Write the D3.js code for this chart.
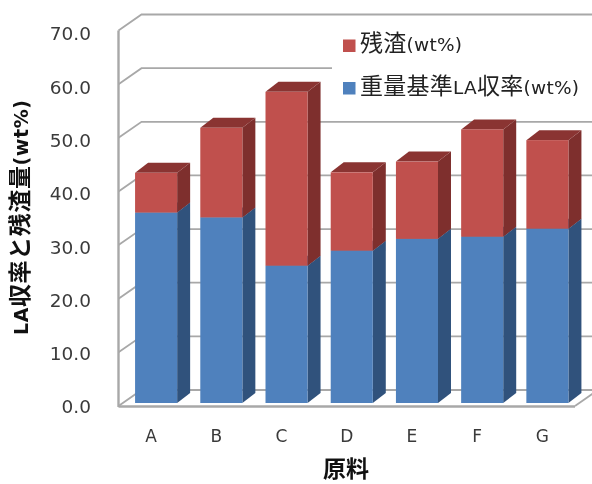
<!DOCTYPE html>
<html><head><meta charset="utf-8">
<script src="https://cdn.jsdelivr.net/npm/d3@7"></script>
<style>html,body{margin:0;padding:0;background:#fff}svg{display:block;filter:blur(0.5px)}</style></head><body>
<div id="c"></div>
<script>
const categories=["A","B","C","D","E","F","G"];
const yieldValues=[35.5,34.6,25.6,28.4,30.6,31.0,32.5];
const residueValues=[7.4,16.7,32.4,14.6,14.4,20.0,16.5];
const yTicks=[0,10,20,30,40,50,60,70];
const seriesNames=["残渣(wt%)","重量基準LA収率(wt%)"];
const yTitle="LA収率と残渣量(wt%)";
const xTitle="原料";
const W=592,H=484,cjk='"Noto Sans CJK JP","Liberation Sans",sans-serif',latin='"DejaVu Sans",sans-serif';
const svg=d3.select("#c").append("svg").attr("width",W).attr("height",H);
const x=d3.scaleBand().domain(categories).range([118.5,575]).paddingInner(0.355).paddingOuter(0.1775);
const y=d3.scaleLinear().domain([0,70]).range([406,30.5]);
const yLabel=d3.scaleLinear().domain([0,70]).range([407,34]);
const wallDx=23,wallDy=-16,frontX=118.5,rightX=575,grid="#a8a8a8";
const g=svg.append("g");
yTicks.forEach(t=>{
  g.append("path").attr("d",`M${frontX},${y(t)}L${frontX+wallDx},${y(t)+wallDy}L${W+5},${y(t)+wallDy}`)
   .attr("fill","none").attr("stroke",grid).attr("stroke-width",1.8);
});
g.append("line").attr("x1",frontX).attr("x2",frontX).attr("y1",y(70)).attr("y2",y(0)+1).attr("stroke",grid).attr("stroke-width",2.4);
g.append("line").attr("x1",frontX).attr("x2",rightX).attr("y1",y(0)+.5).attr("y2",y(0)+.5).attr("stroke",grid).attr("stroke-width",2.4);
g.append("line").attr("x1",rightX).attr("x2",rightX+wallDx).attr("y1",y(0)).attr("y2",y(0)+wallDy).attr("stroke",grid).attr("stroke-width",1.8);
g.append("rect").attr("x",332).attr("y",20).attr("width",W-332).attr("height",95).attr("fill","#fff");
const offX=5,offY=-3,dx=13,dy=-10;
const colors={res:["#C0504D","#7E2F2D","#8A3432"],yld:["#4F81BD","#30527C","#3B6291"]};
function bar(c,v0,v1,col){
  const x0=x(c)+offX,x1=x0+x.bandwidth(),b=y(v0)+offY,t=y(v1)+offY;
  g.append("path").attr("d",`M${x1},${b}L${x1+dx},${b+dy}L${x1+dx},${t+dy}L${x1},${t}Z`).attr("fill",col[1]);
  g.append("path").attr("d",`M${x0},${t}L${x0+dx},${t+dy}L${x1+dx},${t+dy}L${x1},${t}Z`).attr("fill",col[2]);
  g.append("rect").attr("x",x0).attr("y",t).attr("width",x.bandwidth()).attr("height",b-t).attr("fill",col[0]);
}
categories.forEach((c,i)=>{
  bar(c,0,yieldValues[i],colors.yld);
  bar(c,yieldValues[i],yieldValues[i]+residueValues[i],colors.res);
});
const ay=svg.append("g").attr("transform","translate(91,0)").call(d3.axisLeft(yLabel).tickValues(yTicks).tickSize(0).tickPadding(0).tickFormat(d3.format(".1f")));
ay.select(".domain").remove();
ay.selectAll("text").attr("font-size",18.5).attr("fill","#3a3a3a").style("font-family",latin);
const ax=svg.append("g").attr("transform","translate(0,430)").call(d3.axisBottom(x).tickSize(0).tickPadding(0));
ax.select(".domain").remove();
ax.selectAll("text").attr("font-size",17).attr("fill","#3a3a3a").style("font-family",latin);
function runs(sel,str,cjkSize,latSize){
  (str.match(/[\u3000-\u9fff]+|[^\u3000-\u9fff]+/g)||[]).forEach(s=>{
    const isC=/[\u3000-\u9fff]/.test(s);
    sel.append("tspan").attr("font-size",isC?cjkSize:latSize).style("font-family",isC?cjk:latin).text(s);
  });
}
svg.append("text").attr("x",346).attr("y",477.3).attr("text-anchor","middle").attr("font-size",23).attr("font-weight",700).attr("fill","#111").style("font-family",cjk).text(xTitle);
const yt=svg.append("text").attr("transform","translate(28,217.5) rotate(-90)").attr("text-anchor","middle").attr("font-weight",700).attr("fill","#111").attr("textLength",235).attr("lengthAdjust","spacing");
runs(yt,yTitle,23,19);
[[0,colors.res[0],39.5,51,102],[1,colors.yld[0],82,94,219]].forEach(([i,col,ry,ty,len])=>{
  svg.append("rect").attr("x",343).attr("y",ry).attr("width",12.5).attr("height",12.5).attr("fill",col);
  const t=svg.append("text").attr("x",360).attr("y",ty).attr("fill","#222").attr("textLength",len).attr("lengthAdjust","spacing");
  runs(t,seriesNames[i],23,18.5);
});
</script></body></html>
